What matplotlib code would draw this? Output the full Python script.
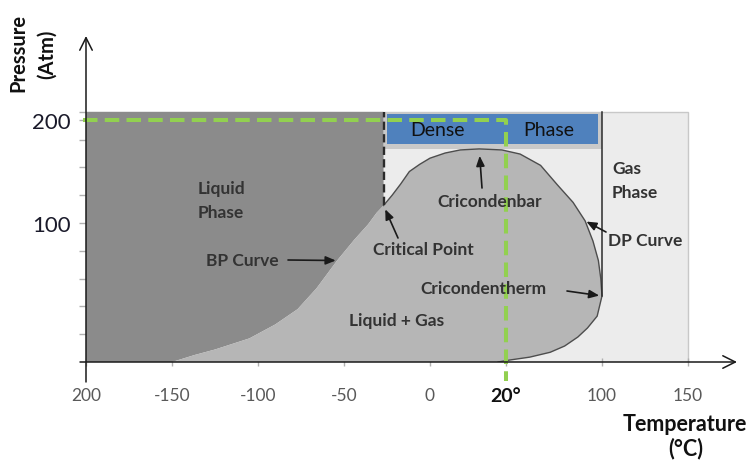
import numpy as np
import matplotlib
matplotlib.use("Agg")
import matplotlib.pyplot as plt
from matplotlib.patches import Polygon, Rectangle

plt.rcParams['font.family'] = ['Lato', 'DejaVu Sans']

# ---------------- data ----------------
# Bubble-point curve, from the bottom up to the critical point (°C, atm)
bp_temp = [-150, -137, -125, -105, -90, -77, -66, -54, -44, -36, -31, -27]
bp_pres = [0, 5, 9, 17, 27, 38, 53, 73, 88, 99, 110, 117]

# Dew-point curve, from the critical point over the top and down to the base
dp_temp = [-27, -22, -17, -12, -6, 0, 4, 8, 13, 19, 32, 49, 63, 76, 86, 92.5,
           97, 99, 100, 96, 88, 80, 69, 57, 40, 24, 18]
dp_pres = [117, 127, 138, 150, 157, 163, 168, 171, 172, 171, 167, 156, 137, 120,
           102, 87, 73, 60, 47.5, 33, 24.5, 18, 11.5, 7, 3.5, 1.5, 0]

# Operating conditions marked on the diagram
op_temp = 20
op_pres = 200

# Axis ticks
x_ticks = [-200, -150, -100, -50, 0, 20, 100, 150]
x_tick_labels = ["200", "-150", "-100", "-50", "0", "20°", "100", "150"]
y_ticks = [100, 200]
y_tick_labels = ["100", "200"]

# Region limits
t_min, t_max = -200, 150
p_top = 208
dense_box_temp = (-25, 97)
dense_box_pres = (177, 206)

# ---------------- schematic (non-uniform) axis scales ----------------
x_knots_data = [-400, 0, 20, 100, 400]
x_knots_lin = [-400, 0, 44, 100, 400]
y_knots_data = [-200, 0, 100, 200, 500]
y_knots_lin = [-200, 0, 100, 174, 396]


def fwd_x(v):
    return np.interp(v, x_knots_data, x_knots_lin)


def inv_x(v):
    return np.interp(v, x_knots_lin, x_knots_data)


def fwd_y(v):
    return np.interp(v, y_knots_data, y_knots_lin)


def inv_y(v):
    return np.interp(v, y_knots_lin, y_knots_data)


W, H = 753, 464
fig = plt.figure(figsize=(W / 100, H / 100), dpi=100)
ax = fig.add_axes([86 / W, 1 - 363 / H, 651 / W, 326 / H])
ax.set_xscale('function', functions=(fwd_x, inv_x))
ax.set_yscale('function', functions=(fwd_y, inv_y))
ax.set_xlim(-200, float(inv_x(178.5)))
ax.set_ylim(0, float(inv_y(234.5)))


def fig_pt(px, py):
    return (px / W, 1 - py / H)


crit_t, crit_p = bp_temp[-1], bp_pres[-1]
i_top = int(np.argmax(dp_pres))
i_right = int(np.argmax(dp_temp))

# light background (gas / dense region)
ax.add_patch(Rectangle((t_min, 0), t_max - t_min, p_top, facecolor='#ececec',
                       edgecolor='#c8c8c8', lw=1.0, zorder=1))
# shaded strip around the dense-phase box
ax.add_patch(Rectangle((crit_t, 172), dp_temp[i_right] - crit_t, p_top - 172,
                       facecolor='#c9c9c9', edgecolor='none', zorder=2))
# liquid region
liq = [(t_min, 0)] + list(zip(bp_temp, bp_pres)) + [(crit_t, p_top), (t_min, p_top)]
ax.add_patch(Polygon(liq, closed=True, facecolor='#8b8b8b', edgecolor='none', zorder=2))
# two-phase envelope
env = list(zip(bp_temp, bp_pres)) + list(zip(dp_temp[1:], dp_pres[1:]))
ax.add_patch(Polygon(env, closed=True, facecolor='#b6b6b6', edgecolor='none', zorder=3))
ax.plot(dp_temp, dp_pres, color='#4d4d4d', lw=1.0, zorder=4)

# dense phase box
ax.add_patch(Rectangle((dense_box_temp[0], dense_box_pres[0]),
                       dense_box_temp[1] - dense_box_temp[0],
                       dense_box_pres[1] - dense_box_pres[0],
                       facecolor='#4f81bd', edgecolor='none', zorder=4))

# cricondentherm vertical and critical-point dashed vertical
ax.plot([dp_temp[i_right]] * 2, [dp_pres[i_right], p_top], color='#2b2b2b', lw=1.1, zorder=5)
ax.plot([crit_t, crit_t], [crit_p, p_top], color='#2b2b2b', lw=1.7,
        ls=(0, (3.5, 1.8)), zorder=5)

# operating-point guide lines
ax.plot([-202, op_temp, op_temp], [op_pres, op_pres, -14], color='#92d050', lw=2.9,
        ls=(0, (3.6, 1.8)), zorder=6, clip_on=False)

# axes with arrow heads
for s in ax.spines.values():
    s.set_visible(False)
arrow_kw = dict(arrowstyle='->,head_length=0.9,head_width=0.45', lw=1.1, color='#1a1a1a',
                shrinkA=0, shrinkB=0)
ax.annotate('', xy=(0, 1), xytext=(0, -20 / 326), xycoords='axes fraction',
            arrowprops=arrow_kw, annotation_clip=False, zorder=7)
ax.annotate('', xy=(1, 0), xytext=(-6 / 651, 0), xycoords='axes fraction',
            arrowprops=arrow_kw, annotation_clip=False, zorder=7)

ax.set_xticks(x_ticks)
ax.set_xticklabels(x_tick_labels)
ax.set_yticks(y_ticks)
ax.set_yticklabels(y_tick_labels)
ax.yaxis.set_ticks(inv_y(np.arange(20, 200, 20)), minor=True)
ax.tick_params(axis='x', which='major', direction='inout', length=6, width=1,
               color='#b0b0b0', pad=15, labelsize=12.5, labelcolor='#595959')
ax.tick_params(axis='y', which='both', direction='out', length=5, width=1,
               color='#b0b0b0', pad=6, labelsize=16, labelcolor='#1a1a2a')
for lbl in ax.get_xticklabels():
    if lbl.get_text() == "20°":
        lbl.set_color('#111111')
        lbl.set_fontsize(14)
        lbl.set_fontweight('bold')

# axis titles
tf = fig.transFigure
fig.text(*fig_pt(18, 53), 'Pressure', rotation=90, ha='center', va='center',
         fontsize=14.5, fontweight='bold', color='#111111', transform=tf)
fig.text(*fig_pt(47, 54), '(Atm)', rotation=90, ha='center', va='center',
         fontsize=14.5, fontweight='bold', color='#111111', transform=tf)
fig.text(*fig_pt(685, 425), 'Temperature', ha='center', va='center',
         fontsize=15.5, fontweight='bold', color='#111111', transform=tf)
fig.text(*fig_pt(686, 449), '(°C)', ha='center', va='center',
         fontsize=15.5, fontweight='bold', color='#111111', transform=tf)

# region labels
lab = dict(fontsize=12.5, fontweight='bold', color='#333333', ha='center', va='center',
           transform=tf, zorder=8)
fig.text(*fig_pt(221, 201), 'Liquid\nPhase', linespacing=1.55, **lab)
fig.text(*fig_pt(397, 321), 'Liquid + Gas', **lab)
fig.text(*fig_pt(612, 181), 'Gas\nPhase', linespacing=1.55,
         **{**lab, 'ha': 'left'})
fig.text(*fig_pt(437, 131), 'Dense', fontsize=14, color='#111111', ha='center',
         va='center', transform=tf, zorder=8)
fig.text(*fig_pt(549, 131), 'Phase', fontsize=14, color='#111111', ha='center',
         va='center', transform=tf, zorder=8)

# annotated points on the envelope
pointer = dict(arrowstyle='-|>,head_length=0.6,head_width=0.25', lw=1.2,
               color='#1a1a1a', shrinkA=0)
i_bp = bp_temp.index(-54)
i_dp = dp_temp.index(86)
notes = [
    ('BP Curve', (bp_temp[i_bp], bp_pres[i_bp]), (242, 261), (288, 261), 1),
    ('Critical Point', (crit_t, crit_p), (423, 250), (398, 239), 3),
    ('Cricondenbar', (dp_temp[i_top], dp_pres[i_top]), (490, 202), (482, 189), 5),
    ('DP Curve', (dp_temp[i_dp], dp_pres[i_dp]), (645, 241), (606, 233), 1),
    ('Cricondentherm', (dp_temp[i_right], dp_pres[i_right]), (483, 289), (567, 292), 2),
]
for text, xy, tpos, tail, shrink in notes:
    fig.text(*fig_pt(*tpos), text, **lab)
    ax.annotate('', xy=xy, xycoords='data', xytext=fig_pt(*tail),
                textcoords='figure fraction',
                arrowprops={**pointer, 'shrinkB': shrink}, zorder=8)

fig.savefig('out.png', dpi=100)
